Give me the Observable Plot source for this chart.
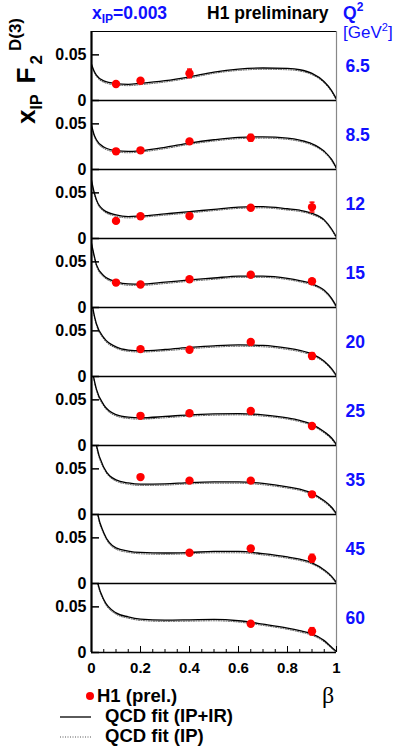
<!DOCTYPE html>
<html>
<head>
<meta charset="utf-8">
<script src="https://cdn.jsdelivr.net/npm/d3@7"></script>
<script src="https://cdn.jsdelivr.net/npm/@observablehq/plot@0.6"></script>
<style>
  html, body { margin: 0; padding: 0; background: #fff; }
  #chart { position: relative; width: 407px; height: 749px; }
</style>
</head>
<body>
<div id="chart"></div>
<script>
// ---------- data ----------
const Q2 = [6.5, 8.5, 12, 15, 20, 25, 35, 45, 60];
const betaPts = [0.1, 0.2, 0.4, 0.65, 0.9];
const f2_6_5 = [0.0181, 0.0217, 0.0297, null, null];
const f2_8_5 = [0.0199, 0.0210, 0.0308, 0.0348, null];
const f2_12  = [0.0193, 0.0243, 0.0247, 0.0337, 0.0344];
const f2_15  = [0.0273, 0.0252, 0.0309, 0.0359, 0.0288];
const f2_20  = [null, 0.0300, 0.0293, 0.0378, 0.0225];
const f2_25  = [null, 0.0325, 0.0353, 0.0378, 0.0214];
const f2_35  = [null, 0.0410, 0.0371, 0.0371, 0.0221];
const f2_45  = [null, null, 0.0337, 0.0383, 0.0277];
const f2_60  = [null, null, null, 0.0315, 0.0232];
const err_6_5 = [0.0015, 0.0015, 0.0047, null, null];
const err_8_5 = [0.0015, 0.0015, 0.0015, 0.0036, null];
const err_12  = [0.0015, 0.0015, 0.0015, 0.0015, 0.0054];
const err_15  = [0.0012, 0.0012, 0.0012, 0.0015, 0.0015];
const err_20  = [null, 0.0012, 0.0012, 0.0015, 0.0036];
const err_25  = [null, 0.0012, 0.0012, 0.0015, 0.0020];
const err_35  = [null, 0.0015, 0.0012, 0.0015, 0.0020];
const err_45  = [null, null, 0.0015, 0.0030, 0.0043];
const err_60  = [null, null, null, 0.0020, 0.0040];

const betaFit = [0, 0.01, 0.02, 0.05, 0.1, 0.15, 0.2, 0.3, 0.4, 0.5, 0.6, 0.7, 0.8, 0.85, 0.9, 0.95, 0.98, 1];
const fit_6_5 = [0.0398, 0.0326, 0.0279, 0.0214, 0.0185, 0.0177, 0.0188, 0.0217, 0.0260, 0.0312, 0.0344, 0.0356, 0.0351, 0.0337, 0.0297, 0.0206, 0.0109, 0.0015];
const fit_8_5 = [0.0489, 0.0387, 0.0326, 0.0246, 0.0206, 0.0198, 0.0206, 0.0243, 0.0290, 0.0326, 0.0352, 0.0358, 0.0344, 0.0322, 0.0282, 0.0200, 0.0110, 0.0015];
const fit_12  = [0.0640, 0.0515, 0.0426, 0.0311, 0.0258, 0.0240, 0.0247, 0.0270, 0.0294, 0.0320, 0.0344, 0.0350, 0.0326, 0.0310, 0.0276, 0.0204, 0.0104, 0.0015];
const fit_15  = [0.0703, 0.0579, 0.0470, 0.0348, 0.0284, 0.0258, 0.0256, 0.0277, 0.0302, 0.0323, 0.0344, 0.0344, 0.0320, 0.0295, 0.0260, 0.0188, 0.0100, 0.0010];
const fit_20  = [0.0850, 0.0685, 0.0578, 0.0425, 0.0325, 0.0290, 0.0282, 0.0296, 0.0318, 0.0336, 0.0346, 0.0340, 0.0310, 0.0286, 0.0246, 0.0168, 0.0086, 0.0010];
const fit_25  = [0.0900, 0.0732, 0.0618, 0.0446, 0.0339, 0.0310, 0.0303, 0.0318, 0.0336, 0.0346, 0.0350, 0.0336, 0.0303, 0.0275, 0.0232, 0.0150, 0.0082, 0.0010];
const fit_35  = [0.1100, 0.0920, 0.0760, 0.0518, 0.0380, 0.0346, 0.0332, 0.0336, 0.0350, 0.0357, 0.0357, 0.0340, 0.0303, 0.0278, 0.0232, 0.0150, 0.0079, 0.0010];
const fit_45  = [0.1300, 0.1100, 0.0850, 0.0557, 0.0390, 0.0355, 0.0340, 0.0334, 0.0340, 0.0351, 0.0351, 0.0327, 0.0291, 0.0266, 0.0227, 0.0149, 0.0078, 0.0010];
const fit_60  = [0.1200, 0.1000, 0.0830, 0.0580, 0.0434, 0.0390, 0.0366, 0.0355, 0.0358, 0.0362, 0.0348, 0.0311, 0.0268, 0.0239, 0.0203, 0.0130, 0.0058, 0.0010];

const yTicks = [0, 0.05];
const xMajorTicks = [0, 0.2, 0.4, 0.6, 0.8, 1];
const xMinorTicks = [0.05, 0.1, 0.15, 0.25, 0.3, 0.35, 0.45, 0.5, 0.55, 0.65, 0.7, 0.75, 0.85, 0.9, 0.95];

// ---------- tidy tables ----------
const f2All = [f2_6_5, f2_8_5, f2_12, f2_15, f2_20, f2_25, f2_35, f2_45, f2_60];
const errAll = [err_6_5, err_8_5, err_12, err_15, err_20, err_25, err_35, err_45, err_60];
const fitAll = [fit_6_5, fit_8_5, fit_12, fit_15, fit_20, fit_25, fit_35, fit_45, fit_60];

const points = [];
Q2.forEach((q, i) => betaPts.forEach((b, j) => {
  const v = f2All[i][j];
  if (v != null) points.push({q, beta: b, f2: v, lo: v - errAll[i][j], hi: v + errAll[i][j]});
}));
const fits = [];
Q2.forEach((q, i) => betaFit.forEach((b, j) => fits.push({q, beta: b, f2: fitAll[i][j]})));

const YMAX = 0.0756;
const capSymbol = { draw(ctx) { ctx.moveTo(-2.5, 0); ctx.lineTo(2.5, 0); } };
const BLUE = "#1010ff";
const font = "'Liberation Sans', Arial, Helvetica, sans-serif";

const plot = Plot.plot({
  width: 407,
  height: 749,
  marginLeft: 91,
  marginRight: 71,
  marginTop: 28,
  marginBottom: 95,
  style: { fontFamily: font, background: "white", color: "black" },
  x: { domain: [0, 1] },
  y: { domain: [0, YMAX] },
  fy: { domain: Q2, padding: 0 },
  marks: [
    Plot.ruleY([YMAX], { stroke: "black", strokeWidth: 1.2 }),
    Plot.ruleX([1], { stroke: "#888", strokeWidth: 1.2 }),
    // QCD fit (IP) dotted, QCD fit (IP+IR) solid
    Plot.line(fits, { x: "beta", y: "f2", fy: "q", curve: "monotone-x", clip: true,
      stroke: "#555", strokeWidth: 1, strokeDasharray: "1,1.5", dy: 1.3 }),
    Plot.line(fits, { x: "beta", y: "f2", fy: "q", curve: "monotone-x", clip: true,
      stroke: "black", strokeWidth: 1.3 }),
    // data
    Plot.ruleX(points, { x: "beta", y1: "lo", y2: "hi", fy: "q", stroke: "red", strokeWidth: 1.5 }),
    Plot.dot(points, { x: "beta", y: "lo", fy: "q", symbol: capSymbol, fill: "none", stroke: "red", strokeWidth: 1.5 }),
    Plot.dot(points, { x: "beta", y: "hi", fy: "q", symbol: capSymbol, fill: "none", stroke: "red", strokeWidth: 1.5 }),
    Plot.dot(points, { x: "beta", y: "f2", fy: "q", r: 4.2, fill: "red", stroke: "none" }),
    // frame lines
    Plot.ruleY([0], { stroke: "black", strokeWidth: 1.6 }),
    Plot.ruleX([0], { stroke: "black", strokeWidth: 2.2 }),
    // axes
    Plot.axisY({ ticks: yTicks, tickFormat: d => d === 0 ? "0" : "0.05", tickSize: -8, tickPadding: 13,
      strokeWidth: 1.5, fontSize: 16, fontWeight: "bold", label: null }),
    Plot.axisX({ ticks: xMajorTicks, tickFormat: d => String(d), tickSize: -6, tickPadding: 16,
      fontSize: 15, fontWeight: "bold", label: null }),
    Plot.axisX({ ticks: xMinorTicks, tickFormat: () => "", tickSize: -3, label: null }),
    Plot.axisFy({ anchor: "right", tickSize: 0, tickPadding: 9, tickFormat: d => String(d),
      fill: BLUE, fontSize: 17.5, fontWeight: "bold", label: null })
  ]
});

document.getElementById("chart").appendChild(plot);

// ---------- titles and legend ----------
const svg = d3.select(plot);
const g = svg.append("g").attr("font-family", font).attr("text-anchor", "start");

// y title (rotated)
const yt = g.append("text")
  .attr("transform", "translate(35,124) rotate(-90)")
  .attr("font-size", 26).attr("font-weight", "bold").attr("fill", "black");
yt.append("tspan").text("x");
yt.append("tspan").attr("font-size", 16).attr("dy", 7).text("IP");
yt.append("tspan").attr("dx", 11).attr("dy", -7).text("F");
yt.append("tspan").attr("font-size", 17).attr("dy", 7).attr("dx", 3).text("2");
yt.append("tspan").attr("font-size", 17).attr("dy", -21).attr("dx", 4).text("D(3)");

// top line
const t1 = g.append("text").attr("x", 92).attr("y", 19).attr("font-size", 17.5)
  .attr("font-weight", "bold").attr("fill", BLUE);
t1.append("tspan").text("x");
t1.append("tspan").attr("font-size", 12).attr("dy", 4).text("IP");
t1.append("tspan").attr("dy", -4).text("=0.003");

g.append("text").attr("x", 207).attr("y", 19).attr("font-size", 17.5)
  .attr("font-weight", "bold").attr("fill", "black").text("H1 preliminary");

const t2 = g.append("text").attr("x", 343).attr("y", 19).attr("font-size", 17.5)
  .attr("font-weight", "bold").attr("fill", BLUE);
t2.append("tspan").text("Q");
t2.append("tspan").attr("font-size", 12).attr("dy", -8).text("2");

const t3 = g.append("text").attr("x", 343).attr("y", 38).attr("font-size", 17)
  .attr("fill", BLUE);
t3.append("tspan").text("[GeV");
t3.append("tspan").attr("font-size", 11).attr("dy", -7).text("2");
t3.append("tspan").attr("dy", 7).text("]");

// beta label
g.append("text").attr("x", 322).attr("y", 703).attr("font-size", 24)
  .attr("font-family", "'Liberation Serif', 'Times New Roman', serif").attr("fill", "black").text("β");

// legend
g.append("circle").attr("cx", 90).attr("cy", 696).attr("r", 4).attr("fill", "red");
g.append("text").attr("x", 97).attr("y", 702).attr("font-size", 18.5).attr("font-weight", "bold").text("H1 (prel.)");
g.append("line").attr("x1", 60).attr("x2", 91).attr("y1", 717).attr("y2", 717)
  .attr("stroke", "black").attr("stroke-width", 1.3);
g.append("text").attr("x", 105).attr("y", 722).attr("font-size", 18.5).attr("font-weight", "bold").text("QCD fit (IP+IR)");
g.append("line").attr("x1", 60).attr("x2", 91).attr("y1", 737).attr("y2", 737)
  .attr("stroke", "#555").attr("stroke-width", 1).attr("stroke-dasharray", "1,1.5");
g.append("text").attr("x", 105).attr("y", 742).attr("font-size", 18.5).attr("font-weight", "bold").text("QCD fit (IP)");
</script>
</body>
</html>
